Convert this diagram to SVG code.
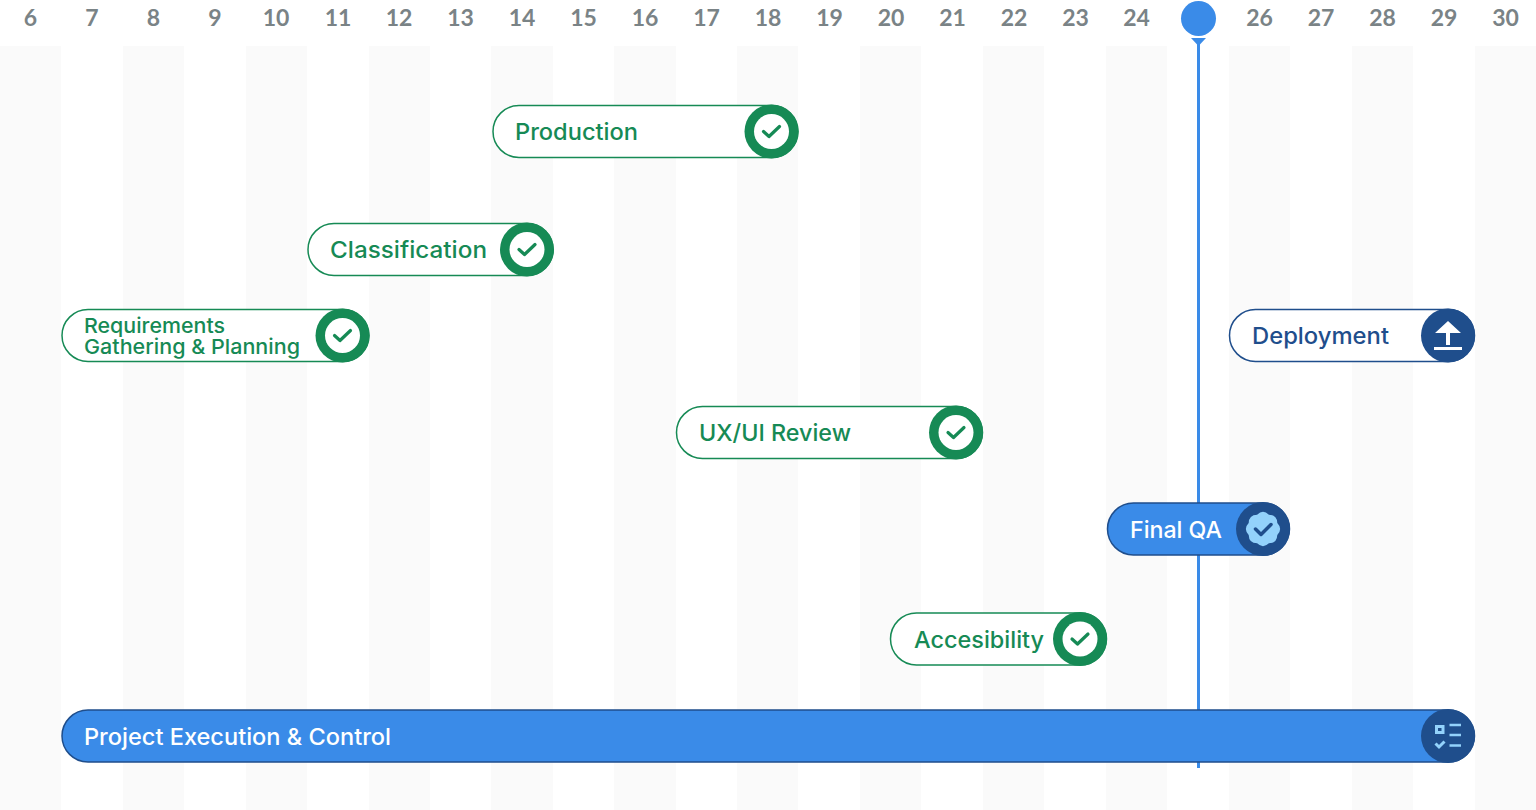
<svg xmlns="http://www.w3.org/2000/svg" width="1536" height="810" viewBox="0 0 1536 810">
<style>
text{font-family:"Inter","Liberation Sans",sans-serif}
.d{font-family:"Lato","Liberation Sans",sans-serif;font-size:23px;font-weight:700;fill:#7a8386;text-anchor:middle}
.s{fill:#fafafa}
.l{font-size:23px;font-weight:500}
.m{font-size:20.500px;font-weight:500}
.g{fill:#168a55}
.w{fill:#fff}
.b{fill:#1f4e8c}
.track{fill:#fff;stroke:#168a55;stroke-width:1.5}
.tick{fill:none;stroke:#168a55;stroke-width:3.200;stroke-linecap:round;stroke-linejoin:round}
</style>
<defs>
<g id="done"><circle r="27" fill="#168a55"/><circle r="17.500" fill="#fff"/><path class="tick" d="M-8 0L-2.500 5L8 -5"/></g>
</defs>
<rect width="1536" height="810" fill="#fff"/>
<g id="stripes">
<rect class="s" x="0" y="46" width="61" height="764"/><rect class="s" x="123" y="46" width="61" height="764"/><rect class="s" x="246" y="46" width="61" height="764"/><rect class="s" x="369" y="46" width="61" height="764"/><rect class="s" x="491" y="46" width="62" height="764"/><rect class="s" x="614" y="46" width="62" height="764"/><rect class="s" x="737" y="46" width="61" height="764"/><rect class="s" x="860" y="46" width="61" height="764"/><rect class="s" x="983" y="46" width="61" height="764"/><rect class="s" x="1106" y="46" width="61" height="764"/><rect class="s" x="1229" y="46" width="61" height="764"/><rect class="s" x="1352" y="46" width="61" height="764"/><rect class="s" x="1475" y="46" width="61" height="764"/>
</g>
<g id="dates">
<text class="d" x="30.500" y="26">6</text><text class="d" x="92" y="26">7</text><text class="d" x="153.500" y="26">8</text><text class="d" x="215" y="26">9</text><text class="d" x="276" y="26">10</text><text class="d" x="338" y="26">11</text><text class="d" x="399" y="26">12</text><text class="d" x="460.500" y="26">13</text><text class="d" x="522" y="26">14</text><text class="d" x="583.500" y="26">15</text><text class="d" x="645" y="26">16</text><text class="d" x="706.500" y="26">17</text><text class="d" x="768" y="26">18</text><text class="d" x="829.500" y="26">19</text><text class="d" x="891" y="26">20</text><text class="d" x="952.500" y="26">21</text><text class="d" x="1014" y="26">22</text><text class="d" x="1075.500" y="26">23</text><text class="d" x="1136.500" y="26">24</text><text class="d" x="1259.500" y="26">26</text><text class="d" x="1321" y="26">27</text><text class="d" x="1382.500" y="26">28</text><text class="d" x="1444" y="26">29</text><text class="d" x="1505.500" y="26">30</text>
</g>
<g id="connectors">
<path id="today-line" d="M1198.500 42V768" stroke="#3a8be8" stroke-width="3" fill="none"/>
</g>
<g id="today-marker"><circle cx="1198.500" cy="18.500" r="17.500" fill="#3a8be8"/><path d="M1191 38H1206L1198.500 46Z" fill="#3a8be8"/></g>
<g id="production"><rect class="track" x="493" y="105.500" width="305" height="52" rx="26"/><use href="#done" x="771.500" y="131.500"/><text class="l g" x="515" y="140" textLength="123" lengthAdjust="spacingAndGlyphs">Production</text></g>
<g id="classification"><rect class="track" x="308" y="223.500" width="245" height="52" rx="26"/><use href="#done" x="527" y="249.500"/><text class="l g" x="330" y="258" textLength="157" lengthAdjust="spacingAndGlyphs">Classification</text></g>
<g id="requirements"><rect class="track" x="62" y="309.500" width="307" height="52" rx="26"/><use href="#done" x="342.500" y="335.500"/><text class="m g" x="84" y="333" textLength="141" lengthAdjust="spacingAndGlyphs">Requirements</text><text class="m g" x="84" y="354" textLength="216" lengthAdjust="spacingAndGlyphs">Gathering &amp; Planning</text></g>
<g id="uxui"><rect class="track" x="676.500" y="406.500" width="306" height="52" rx="26"/><use href="#done" x="956" y="432.500"/><text class="l g" x="699" y="441" textLength="152" lengthAdjust="spacingAndGlyphs">UX/UI Review</text></g>
<g id="accesibility"><rect class="track" x="890.500" y="613" width="216" height="52" rx="26"/><use href="#done" x="1080" y="639"/><text class="l g" x="914" y="648" textLength="130" lengthAdjust="spacingAndGlyphs">Accesibility</text></g>
<g id="deployment"><rect x="1229.500" y="309.500" width="245" height="52" rx="26" fill="#fff" stroke="#1f4e8c" stroke-width="1.500"/><circle cx="1448" cy="335.500" r="27" fill="#1f4e8c"/><path d="M1448 321L1461 333H1450V345H1446V333H1435Z" fill="#fff"/><rect x="1434" y="347" width="28" height="3" fill="#fff"/><text class="l b" x="1252" y="344" textLength="137" lengthAdjust="spacingAndGlyphs">Deployment</text></g>
<g id="final-qa"><rect x="1107.500" y="503" width="182" height="52" rx="26" fill="#3a8be8" stroke="#1f4e8c" stroke-width="1.500"/><circle cx="1263" cy="529" r="27" fill="#1f4e8c"/><path transform="translate(1263 529)" d="M14.300 -5.900Q20 0 14.300 5.900Q14.100 14.100 5.900 14.300Q0 20 -5.900 14.300Q-14.100 14.100 -14.300 5.900Q-20 0 -14.300 -5.900Q-14.100 -14.100 -5.900 -14.300Q0 -20 5.900 -14.300Q14.100 -14.100 14.300 -5.900Z" fill="#93d2fb"/><path d="M1255.500 529L1261 534.500L1271 524.500" fill="none" stroke="#1f4e8c" stroke-width="3.500" stroke-linecap="round" stroke-linejoin="round"/><text class="l w" x="1130" y="538" textLength="92" lengthAdjust="spacingAndGlyphs">Final QA</text></g>
<g id="project"><rect x="62" y="710" width="1412.500" height="52" rx="26" fill="#3a8be8" stroke="#1f4e8c" stroke-width="1.500"/><circle cx="1448" cy="736" r="27" fill="#1f4e8c"/><rect x="1436.500" y="726.500" width="6.500" height="6" fill="none" stroke="#93d2fb" stroke-width="3"/><path d="M1449.500 725H1461M1449.500 735H1461M1449.500 745.500H1461" stroke="#93d2fb" stroke-width="2.500" fill="none"/><path d="M1435.500 743.500L1439 747L1444.500 741.500" stroke="#93d2fb" stroke-width="3" fill="none"/><text class="l w" x="84" y="744.500" textLength="307" lengthAdjust="spacingAndGlyphs">Project Execution &amp; Control</text></g>
</svg>
